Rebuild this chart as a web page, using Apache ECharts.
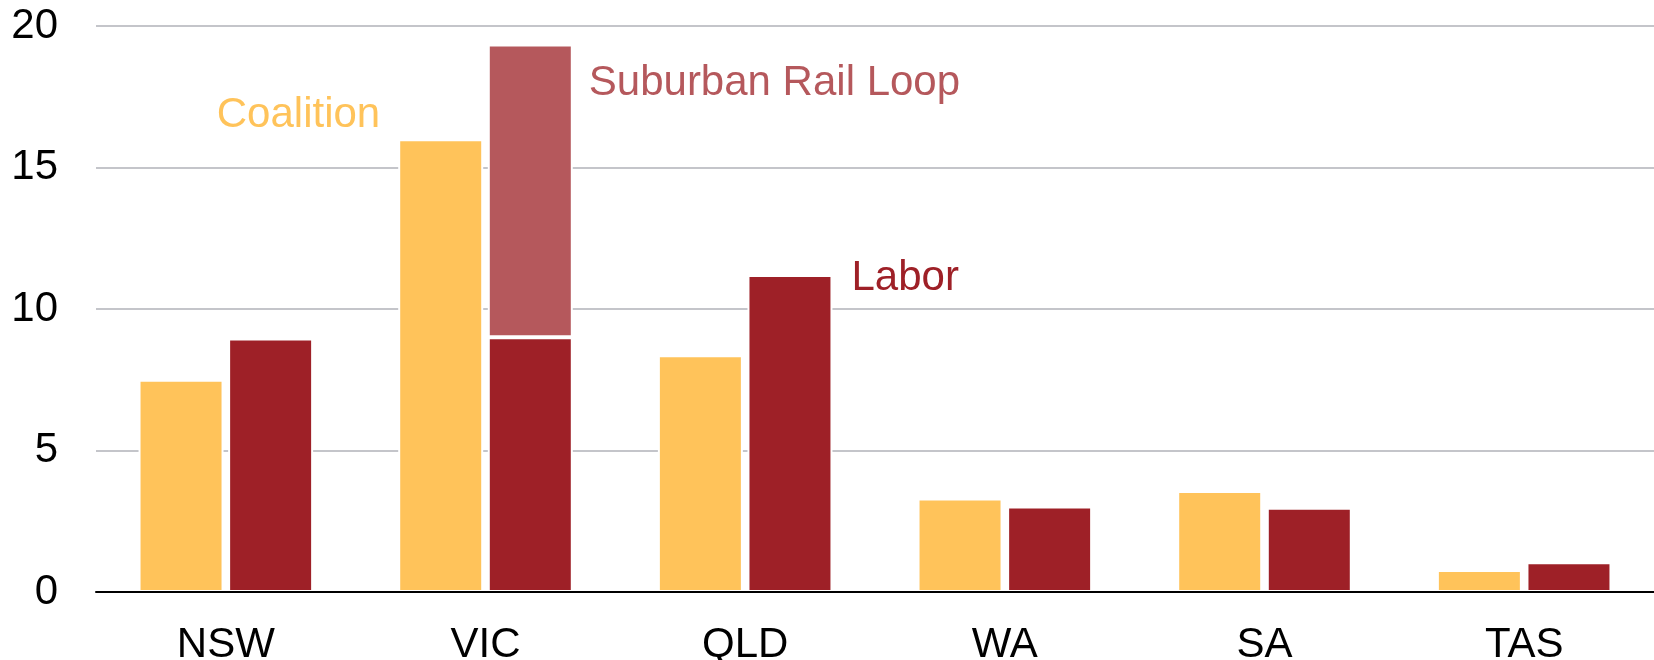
<!DOCTYPE html>
<html>
<head>
<meta charset="utf-8">
<script src="https://cdn.jsdelivr.net/npm/echarts@6/dist/echarts.min.js"></script>
<style>
  html, body { margin: 0; padding: 0; background: #fff; }
  #chart { width: 1654px; height: 660px; }
</style>
</head>
<body>
<div id="chart"></div>
<script>
const categories = ['NSW', 'VIC', 'QLD', 'WA', 'SA', 'TAS'];
const coalition = [7.5, 16.0, 8.37, 3.3, 3.57, 0.78];
const labor = [8.96, 9.0, 11.2, 3.02, 2.98, 1.05];
const suburbanRailLoop = ['-', 10.35, '-', '-', '-', '-'];
const yTicks = { min: 0, max: 20, interval: 5 };

const FONT = '"Liberation Sans", Arial, Helvetica, sans-serif';
const C_COAL = '#FFC35A';
const C_LAB = '#9E2027';
const C_SRL = '#B5585C';

function withLabel(values, idx, label) {
  return values.map((v, i) => i === idx ? { value: v, label: label } : v);
}

const barCommon = {
  type: 'bar',
  barWidth: 85,
  barGap: '5.4%',
  emphasis: { disabled: true },
  label: { show: false }
};

const chart = echarts.init(document.getElementById('chart'), null, { renderer: 'canvas' });
chart.setOption({
  animation: false,
  backgroundColor: '#ffffff',
  textStyle: { fontFamily: FONT },
  grid: { left: 96, right: 0, top: 26, bottom: 68, containLabel: false, outerBoundsMode: 'none' },
  xAxis: {
    type: 'category',
    data: categories,
    z: 10,
    axisLine: { show: true, lineStyle: { color: '#000', width: 2 } },
    axisTick: { show: false },
    axisLabel: { color: '#000', fontSize: 42, fontFamily: FONT, margin: 32 },
    splitLine: { show: false }
  },
  yAxis: {
    type: 'value',
    min: yTicks.min,
    max: yTicks.max,
    interval: yTicks.interval,
    axisLine: { show: false },
    axisTick: { show: false },
    axisLabel: { color: '#000', fontSize: 42, fontFamily: FONT, margin: 38, padding: [10, 0, 0, 0] },
    splitLine: { show: true, lineStyle: { color: '#C4C5CA', width: 2 } }
  },
  series: [
    Object.assign({}, barCommon, {
      name: 'Coalition',
      itemStyle: { color: C_COAL, borderColor: '#ffffff', borderWidth: 2 },
      data: withLabel(coalition, 1, {
        show: true, formatter: 'Coalition', position: [0, 0],
        align: 'right', verticalAlign: 'middle', offset: [-18, -24],
        color: C_COAL, fontSize: 42, fontFamily: FONT
      })
    }),
    Object.assign({}, barCommon, {
      name: 'Labor',
      stack: 'labor',
      itemStyle: { color: C_LAB, borderColor: '#ffffff', borderWidth: 2 },
      data: withLabel(labor, 2, {
        show: true, formatter: 'Labor', position: ['100%', 0],
        align: 'left', verticalAlign: 'middle', offset: [19, 3],
        color: C_LAB, fontSize: 42, fontFamily: FONT
      })
    }),
    Object.assign({}, barCommon, {
      name: 'Suburban Rail Loop',
      stack: 'labor',
      itemStyle: { color: C_SRL, borderColor: '#ffffff', borderWidth: 2 },
      data: withLabel(suburbanRailLoop, 1, {
        show: true, formatter: 'Suburban Rail Loop', position: ['100%', 0],
        align: 'left', verticalAlign: 'middle', offset: [16, 39],
        color: C_SRL, fontSize: 42, fontFamily: FONT
      })
    })
  ]
});
</script>
</body>
</html>
